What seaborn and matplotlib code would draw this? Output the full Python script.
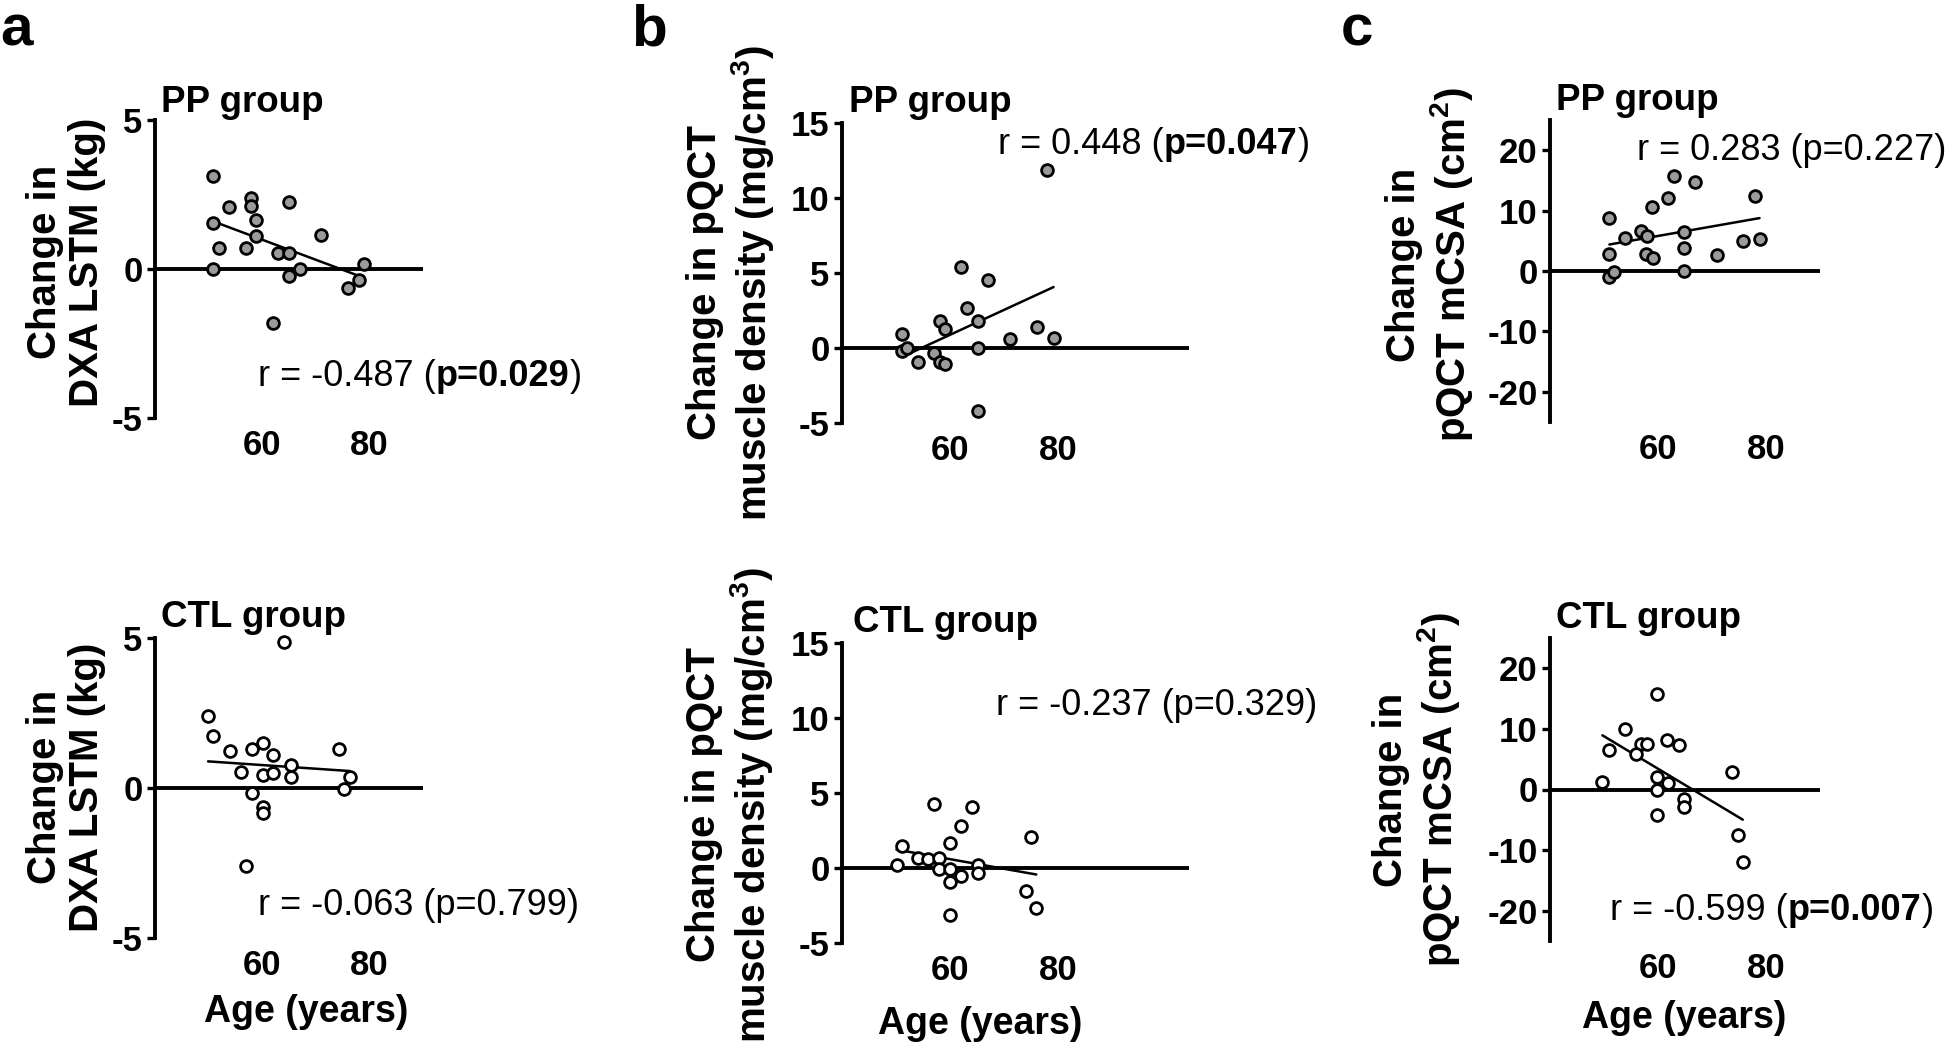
import numpy as np
import matplotlib
matplotlib.use("Agg")
import matplotlib.pyplot as plt
import seaborn as sns

# ----------------------------------------------------------
# DATA
# ----------------------------------------------------------
# a: DXA LSTM change (kg)
a_pp_age = [50.9, 50.9, 51.9, 50.9, 53.8, 57.9, 57.9, 58.9, 58.9, 56.9,
            62.0, 62.9, 65.0, 65.0, 65.0, 67.0, 70.9, 76.0, 78.1, 79.0]
a_pp_val = [3.13, 1.55, 0.71, 0.0, 2.09, 2.37, 2.11, 1.64, 1.11, 0.71,
            -1.82, 0.55, 0.55, 2.24, -0.23, 0.0, 1.14, -0.65, -0.37, 0.16]
a_ctl_age = [64.0, 49.9, 50.9, 54.0, 58.1, 60.1, 62.1, 56.0, 60.1, 62.1,
             65.3, 65.3, 58.1, 60.1, 60.1, 56.9, 74.4, 76.4, 75.3]
a_ctl_val = [4.88, 2.41, 1.73, 1.23, 1.29, 1.49, 1.10, 0.54, 0.43, 0.51,
             0.77, 0.36, -0.18, -0.62, -0.82, -2.59, 1.29, 0.38, -0.03]

# b: pQCT muscle density change (mg/cm3)
b_pp_age = [78.0, 62.1, 67.1, 63.2, 58.1, 59.0, 65.2, 51.2, 51.2, 52.1,
            54.1, 57.0, 58.1, 59.0, 65.2, 65.2, 71.1, 76.2, 79.2]
b_pp_val = [11.89, 5.40, 4.51, 2.69, 1.80, 1.29, 1.80, 0.91, -0.20, 0.02,
            -0.93, -0.33, -0.93, -1.04, 0.0, -4.22, 0.58, 1.40, 0.69]
b_ctl_age = [57.0, 64.1, 62.1, 60.1, 51.2, 50.1, 54.0, 56.0, 58.0, 58.0,
             60.1, 60.1, 62.1, 65.2, 65.2, 60.1, 75.0, 74.1, 76.0]
b_ctl_val = [4.29, 4.07, 2.78, 1.67, 1.45, 0.18, 0.67, 0.58, 0.67, -0.04,
             -0.04, -0.93, -0.55, 0.18, -0.33, -3.15, 2.07, -1.53, -2.64]

# c: pQCT mCSA change (cm2)
c_pp_age = [51.0, 51.0, 51.0, 51.9, 53.9, 56.9, 58.0, 57.8, 59.0, 58.9,
            61.9, 63.0, 66.9, 64.9, 64.9, 64.9, 70.9, 75.8, 78.8, 78.0]
c_pp_val = [8.78, 2.89, -1.0, -0.1, 5.44, 6.56, 5.83, 2.78, 2.22, 10.67,
            12.1, 15.8, 14.7, 6.39, 3.89, 0.0, 2.61, 5.0, 5.28, 12.39]
c_ctl_age = [59.8, 53.8, 50.9, 56.9, 57.9, 55.9, 61.7, 63.8, 49.7, 59.8,
             61.8, 59.8, 64.8, 64.8, 59.8, 73.7, 74.9, 75.7]
c_ctl_val = [15.83, 10.05, 6.55, 7.55, 7.55, 5.88, 8.10, 7.38, 1.27, 2.10,
             1.10, 0.0, -1.62, -2.90, -4.28, 2.83, -7.45, -11.9]

x_ticks = [60, 80]

# ----------------------------------------------------------
# STYLE
# ----------------------------------------------------------
sns.set_style("ticks")
plt.rcParams["font.family"] = ["Liberation Sans", "DejaVu Sans"]
plt.rcParams["mathtext.fontset"] = "custom"
plt.rcParams["mathtext.rm"] = "Liberation Sans"
plt.rcParams["mathtext.bf"] = "Liberation Sans:bold"
plt.rcParams["axes.unicode_minus"] = False
for k in ["text.color", "axes.labelcolor", "axes.edgecolor", "xtick.color", "ytick.color"]:
    plt.rcParams[k] = "black"

W, H = 1946, 1045
PP_FILL = "#9b9b9b"
CTL_FILL = "white"

fig = plt.figure(figsize=(W / 100, H / 100), dpi=100)


def px_axes(left, right, top, bottom):
    return fig.add_axes([left / W, 1 - bottom / H, (right - left) / W, (bottom - top) / H])


def panel(box, age, val, fill, xlim, ylim, yticks):
    ax = px_axes(*box)
    ax.axhline(0, color="black", lw=2.8, zorder=1)
    sns.regplot(x=np.array(age), y=np.array(val), ax=ax, scatter=False, ci=None,
                color="black", line_kws={"lw": 1.8, "zorder": 2})
    sns.scatterplot(x=age, y=val, ax=ax, color=fill, edgecolor="black",
                    s=72, linewidth=2.0, zorder=3, clip_on=False)
    ax.set_xlim(*xlim)
    ax.set_ylim(*ylim)
    ax.set_xticks(x_ticks)
    ax.set_yticks(yticks)
    ax.set_xlabel("")
    ax.set_ylabel("")
    for s in ["top", "right", "bottom"]:
        ax.spines[s].set_visible(False)
    ax.spines["left"].set_linewidth(2.8)
    ax.tick_params(axis="x", length=0, pad=8, labelsize=25)
    ax.tick_params(axis="y", length=6, width=2.4, pad=3, labelsize=25)
    for lab in ax.get_xticklabels() + ax.get_yticklabels():
        lab.set_fontweight("bold")
    ax.set_facecolor("none")
    return ax


# panels: (left, right, top, bottom) in pixels
panel((155, 423, 120, 418), a_pp_age, a_pp_val, PP_FILL, (40, 90), (-5, 5), [-5, 0, 5])
panel((155, 423, 638, 938), a_ctl_age, a_ctl_val, CTL_FILL, (40, 90), (-5, 5), [-5, 0, 5])
panel((842, 1189, 123, 423), b_pp_age, b_pp_val, PP_FILL, (40, 104.3), (-5, 15), [-5, 0, 5, 10, 15])
panel((842, 1189, 643, 943), b_ctl_age, b_ctl_val, CTL_FILL, (40, 104.3), (-5, 15), [-5, 0, 5, 10, 15])
panel((1550, 1820, 120, 422), c_pp_age, c_pp_val, PP_FILL, (40, 90), (-25, 25), [-20, -10, 0, 10, 20])
panel((1550, 1820, 638, 941), c_ctl_age, c_ctl_val, CTL_FILL, (40, 90), (-25, 25), [-20, -10, 0, 10, 20])


def ftext(x, y, s, **kw):
    return fig.text(x / W, 1 - y / H, s, **kw)


# panel letters
for x, s in [(0, "a"), (631, "b"), (1341, "c")]:
    ftext(x, 45, s, fontsize=42, fontweight="bold", va="baseline")

# group titles
for x, y, s in [(161, 112, "PP group"), (161, 627, "CTL group"),
                (849, 112, "PP group"), (853, 632, "CTL group"),
                (1556, 110, "PP group"), (1556, 628, "CTL group")]:
    ftext(x, y, s, fontsize=26.5, fontweight="bold", va="baseline")

# y labels
ylab_a = "Change in\nDXA LSTM (kg)"
ylab_b = "Change in pQCT\nmuscle density (mg/cm$^{\\mathbf{3}}$)"
ylab_c = "Change in\npQCT mCSA (cm$^{\\mathbf{2}}$)"
for x, y, s in [(66, 262, ylab_a), (66, 787, ylab_a),
                (731, 283, ylab_b), (730, 805, ylab_b),
                (1430, 265, ylab_c), (1417, 790, ylab_c)]:
    ftext(x, y, s, fontsize=29, fontweight="bold", rotation=90,
          ha="center", va="center", multialignment="center", linespacing=1.12)

# x labels
for x, y in [(306, 1012), (980, 1024), (1684, 1018)]:
    ftext(x, y, "Age (years)", fontsize=27, fontweight="bold", ha="center", va="center")

# correlation annotations
renderer = fig.canvas.get_renderer()


def rich(x, y, parts):
    for s, w in parts:
        t = ftext(x, y, s, fontsize=26, fontweight=w, va="baseline", ha="left")
        x = t.get_window_extent(renderer).x1


rich(258, 386, [("r = -0.487 (", "normal"), ("p=0.029", "bold"), (")", "normal")])
rich(258, 915, [("r = -0.063 (p=0.799)", "normal")])
rich(998, 154, [("r = 0.448 (", "normal"), ("p=0.047", "bold"), (")", "normal")])
rich(996, 715, [("r = -0.237 (p=0.329)", "normal")])
rich(1637, 160, [("r = 0.283 (p=0.227)", "normal")])
rich(1610, 920, [("r = -0.599 (", "normal"), ("p=0.007", "bold"), (")", "normal")])

fig.savefig("out.png", dpi=100, facecolor="white")
